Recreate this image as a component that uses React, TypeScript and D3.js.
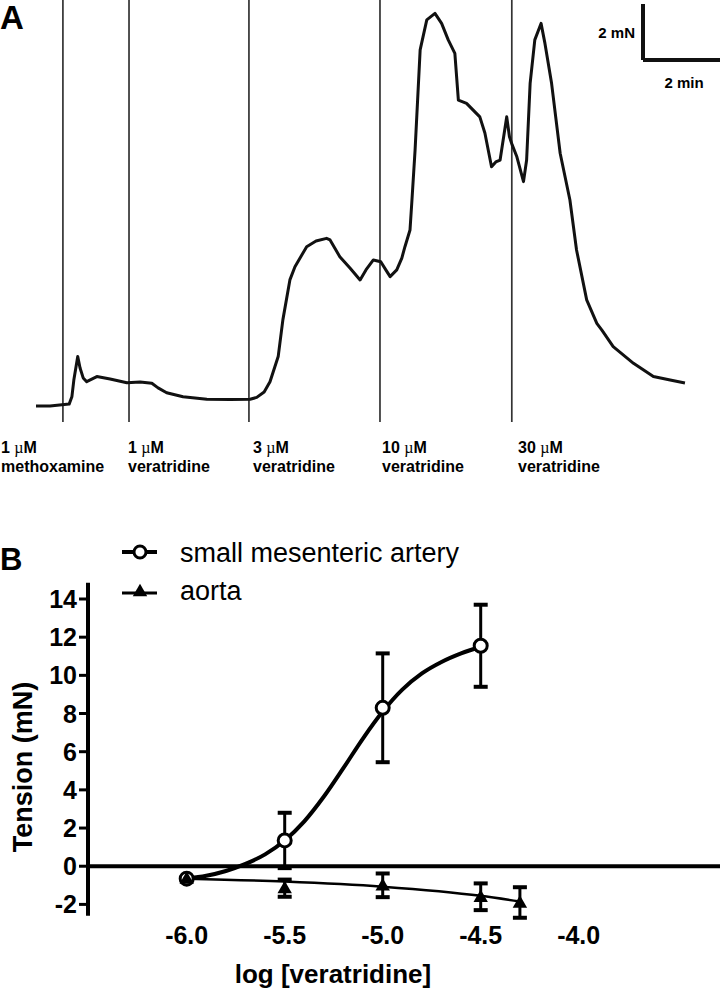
import React from 'react';
import * as d3 from 'd3';

// ---------- Panel A: tension trace (time in min, tension in mN) ----------
const traceTime = [0, 0.36, 0.85, 0.92, 0.97, 1.07, 1.13, 1.21, 1.3, 1.56, 1.9, 2.33, 2.67, 2.97, 3.13, 3.35, 3.77, 4.38, 4.97, 5.49, 5.66, 5.85, 6.0, 6.21, 6.33, 6.51, 6.64, 6.94, 7.18, 7.45, 7.54, 7.79, 8.05, 8.31, 8.46, 8.65, 8.84, 8.97, 9.08, 9.25, 9.38, 9.46, 9.59, 9.64, 9.72, 9.85, 10.02, 10.23, 10.4, 10.57, 10.74, 10.83, 11.04, 11.38, 11.51, 11.68, 11.79, 11.9, 12.07, 12.14, 12.21, 12.33, 12.5, 12.58, 12.67, 12.79, 12.95, 13.05, 13.22, 13.44, 13.69, 13.86, 14.12, 14.38, 14.51, 14.8, 15.32, 15.83, 16.26, 16.64];
const traceTension = [0, 0, 0.07, 0.34, 0.96, 1.83, 1.41, 1.04, 0.9, 1.09, 1.0, 0.86, 0.89, 0.84, 0.67, 0.49, 0.34, 0.25, 0.24, 0.25, 0.32, 0.52, 0.9, 1.83, 3.19, 4.67, 5.16, 5.9, 6.11, 6.21, 6.15, 5.53, 5.11, 4.67, 5.04, 5.41, 5.34, 5.04, 4.79, 5.04, 5.48, 5.9, 6.52, 7.63, 9.48, 13.19, 14.3, 14.54, 14.17, 13.56, 13.06, 11.33, 11.21, 10.71, 10.11, 8.86, 9.04, 9.11, 10.71, 9.97, 9.67, 9.23, 8.31, 9.11, 11.95, 13.56, 14.17, 13.43, 11.95, 9.36, 7.63, 5.78, 3.93, 3.06, 2.81, 2.2, 1.58, 1.09, 0.96, 0.85];

const additionTimes = [0.69, 2.385, 5.46, 8.82, 12.2];
const additionDose = ['1', '1', '3', '10', '30'];
const additionDrug = ['methoxamine', 'veratridine', 'veratridine', 'veratridine', 'veratridine'];
const additionLabelX = [1, 128, 253, 382, 518];

const scaleBarTension = 2; // mN
const scaleBarTime = 2; // min

// ---------- Panel B: concentration-response ----------
const smaLogConc = [-6.0, -5.5, -5.0, -4.5];
const smaMean = [-0.65, 1.35, 8.3, 11.55];
const smaSem = [0, 1.45, 2.85, 2.15];

const aortaLogConc = [-6.0, -5.5, -5.0, -4.5, -4.3];
const aortaMean = [-0.65, -1.15, -1.0, -1.6, -1.9];
const aortaSem = [0, 0.45, 0.62, 0.7, 0.8];

const smaFitX = [-6.0, -5.9, -5.8, -5.7, -5.6, -5.5, -5.4, -5.3, -5.2, -5.1, -5.0, -4.9, -4.8, -4.7, -4.6, -4.5];
const smaFitY = [-0.65, -0.5, -0.25, 0.12, 0.62, 1.35, 2.35, 3.65, 5.15, 6.7, 8.1, 9.25, 10.1, 10.7, 11.15, 11.5];
const aortaFitX = [-6.0, -5.5, -5.0, -4.5, -4.3];
const aortaFitY = [-0.65, -0.8, -1.07, -1.55, -1.85];

const yTicks = [-2, 0, 2, 4, 6, 8, 10, 12, 14];
const xTicks = [-6.0, -5.5, -5.0, -4.5, -4.0];
const xTickLabels = ['-6.0', '-5.5', '-5.0', '-4.5', '-4.0'];

const FONT = 'Liberation Sans, Arial, Helvetica, sans-serif';

export default function App() {
  // Panel A scales
  const xA = d3.scaleLinear().domain([0, 1]).range([36, 75]);
  const yA = d3.scaleLinear().domain([0, 1]).range([406, 379]);
  const traceLine = d3
    .line<number>()
    .x((_, i) => xA(traceTime[i]))
    .y((d) => yA(d))
    .curve(d3.curveLinear);

  // Panel B scales
  const xB = d3.scaleLinear().domain([-6, -4]).range([186.7, 578.7]);
  const yB = d3.scaleLinear().domain([-2, 14]).range([904.4, 599]);
  const fitLine = d3
    .line<[number, number]>()
    .x((d) => xB(d[0]))
    .y((d) => yB(d[1]))
    .curve(d3.curveMonotoneX);
  const smaFit = smaFitX.map((x, i) => [x, smaFitY[i]] as [number, number]);
  const aortaFit = aortaFitX.map((x, i) => [x, aortaFitY[i]] as [number, number]);
  const tri = d3.symbol().type(d3.symbolTriangle).size(90)();
  const axisX = 88;
  const capW = 7;

  // scale bar geometry from scales
  const sbX = 643;
  const sbTop = 4;
  const sbBottom = sbTop + (yA(0) - yA(scaleBarTension));
  const sbRight = sbX + (xA(scaleBarTime) - xA(0));

  return (
    <svg width={720} height={994} style={{ position: 'absolute', left: 0, top: 0, background: '#fff' }} fontFamily={FONT}>
      <rect x={0} y={0} width={720} height={994} fill="#fff" />
      {/* Panel A */}
      <text x={0} y={29} fontSize={33} fontWeight="bold">A</text>
      {additionTimes.map((t, i) => (
        <line key={'v' + i} x1={xA(t)} x2={xA(t)} y1={0} y2={422} stroke="#333" strokeWidth={1.7} />
      ))}
      <path d={traceLine(traceTension) || ''} fill="none" stroke="#111" strokeWidth={3} strokeLinejoin="round" />
      {additionTimes.map((t, i) => (
        <g key={'l' + i} fontSize={16} fontWeight="bold">
          <text x={additionLabelX[i]} y={453}>
            {additionDose[i] + ' '}
            <tspan fontFamily="Liberation Serif, serif" fontWeight="normal">µ</tspan>M
          </text>
          <text x={additionLabelX[i]} y={472}>{additionDrug[i]}</text>
        </g>
      ))}
      {/* scale bar */}
      <line x1={sbX} x2={sbX} y1={sbTop} y2={sbBottom + 2} stroke="#111" strokeWidth={4} />
      <line x1={sbX} x2={sbRight} y1={sbBottom + 2} y2={sbBottom + 2} stroke="#111" strokeWidth={4} />
      <text x={sbX - 8} y={38} fontSize={15} fontWeight="bold" textAnchor="end">2 mN</text>
      <text x={(sbX + sbRight) / 2 + 2} y={88} fontSize={15} fontWeight="bold" textAnchor="middle">2 min</text>

      {/* Panel B */}
      <text x={0} y={570} fontSize={31} fontWeight="bold">B</text>
      {/* legend */}
      <line x1={122} x2={157} y1={552} y2={552} stroke="#000" strokeWidth={4} />
      <circle cx={140} cy={552} r={6} fill="#fff" stroke="#000" strokeWidth={3} />
      <text x={180} y={562} fontSize={27}>small mesenteric artery</text>
      <line x1={122} x2={157} y1={593} y2={593} stroke="#000" strokeWidth={3} />
      <path d={tri || ''} transform={`translate(140,592)`} fill="#000" />
      <text x={180} y={600} fontSize={27}>aorta</text>

      {/* y axis */}
      <line x1={axisX} x2={axisX} y1={yB(14.85)} y2={yB(-2.6)} stroke="#000" strokeWidth={4} />
      {yTicks.map((v) => (
        <g key={'yt' + v}>
          <line x1={axisX - 9} x2={axisX} y1={yB(v)} y2={yB(v)} stroke="#000" strokeWidth={3} />
          <text x={axisX - 11} y={yB(v) + 9} fontSize={25} fontWeight="bold" textAnchor="end">{String(v)}</text>
        </g>
      ))}
      <text transform={`translate(32,767) rotate(-90)`} fontSize={27} fontWeight="bold" textAnchor="middle">Tension (mN)</text>

      {/* x axis at zero */}
      <line x1={axisX} x2={720} y1={yB(0)} y2={yB(0)} stroke="#000" strokeWidth={4} />
      {xTicks.map((v, i) => (
        <text key={'xt' + v} x={xB(v)} y={944} fontSize={25} fontWeight="bold" textAnchor="middle">{xTickLabels[i]}</text>
      ))}
      <text x={333} y={983} fontSize={26} fontWeight="bold" textAnchor="middle">log [veratridine]</text>

      {/* fits */}
      <path d={fitLine(aortaFit) || ''} fill="none" stroke="#000" strokeWidth={2.5} />
      <path d={fitLine(smaFit) || ''} fill="none" stroke="#000" strokeWidth={4} />

      {/* SMA error bars */}
      {smaLogConc.map((c, i) =>
        smaSem[i] > 0 ? (
          <g key={'se' + i} stroke="#000">
            <line x1={xB(c)} x2={xB(c)} y1={yB(smaMean[i] + smaSem[i])} y2={yB(smaMean[i] - smaSem[i])} strokeWidth={3} />
            <line x1={xB(c) - capW} x2={xB(c) + capW} y1={yB(smaMean[i] + smaSem[i])} y2={yB(smaMean[i] + smaSem[i])} strokeWidth={4} />
            <line x1={xB(c) - capW} x2={xB(c) + capW} y1={yB(smaMean[i] - smaSem[i])} y2={yB(smaMean[i] - smaSem[i])} strokeWidth={4} />
          </g>
        ) : null
      )}
      {/* aorta error bars */}
      {aortaLogConc.map((c, i) =>
        aortaSem[i] > 0 ? (
          <g key={'ae' + i} stroke="#000">
            <line x1={xB(c)} x2={xB(c)} y1={yB(aortaMean[i] + aortaSem[i])} y2={yB(aortaMean[i] - aortaSem[i])} strokeWidth={3} />
            <line x1={xB(c) - capW} x2={xB(c) + capW} y1={yB(aortaMean[i] + aortaSem[i])} y2={yB(aortaMean[i] + aortaSem[i])} strokeWidth={4} />
            <line x1={xB(c) - capW} x2={xB(c) + capW} y1={yB(aortaMean[i] - aortaSem[i])} y2={yB(aortaMean[i] - aortaSem[i])} strokeWidth={4} />
          </g>
        ) : null
      )}
      {smaLogConc.map((c, i) => (
        <circle key={'sp' + i} cx={xB(c)} cy={yB(smaMean[i])} r={6.5} fill="#fff" stroke="#000" strokeWidth={3} />
      ))}
      {aortaLogConc.map((c, i) => (
        <path key={'ap' + i} d={tri || ''} transform={`translate(${xB(c)},${yB(aortaMean[i]) + 1})`} fill="#000" />
      ))}
    </svg>
  );
}
